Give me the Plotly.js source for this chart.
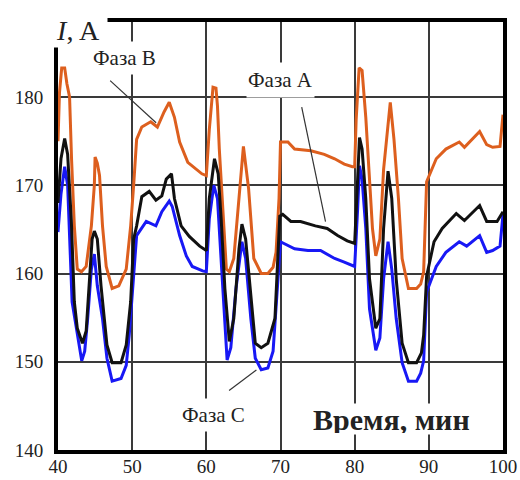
<!DOCTYPE html>
<html>
<head>
<meta charset="utf-8">
<script src="https://cdn.plot.ly/plotly-3.0.1.min.js"></script>
<style>html,body{margin:0;padding:0;background:#fff;}#chart{width:520px;height:480px;}</style>
</head>
<body>
<div id="chart"></div>
<script>
// Phase B (orange)
const timeB = [40.0,40.2,40.5,40.9,41.2,41.56,41.83,42.2,42.6,43.16,43.8,44.5,44.9,45.0,45.3,45.6,46.0,46.5,47.3,48.2,49.2,49.8,50.2,50.6,51.3,52.5,53.4,54.3,55.0,55.7,56.4,57.5,59.4,60.0,60.4,60.9,61.3,61.5,61.75,62.1,62.7,63.1,63.7,64.4,65.0,65.7,66.4,67.4,68.3,69.0,69.4,69.8,70.0,71.0,71.9,74.1,75.9,77.3,78.6,79.7,80.0,80.2,80.6,81.0,81.5,82.0,82.4,82.85,83.4,83.9,84.8,85.3,85.9,86.4,87.25,88.35,88.9,89.3,89.7,91.0,92.3,94.1,94.8,96.85,97.8,98.6,99.6,100];
const phaseB = [175,180.5,183.3,183.3,181.5,180.0,172.9,165.4,160.5,160.2,160.8,165.4,170,173.2,172.5,171.1,165.4,160.8,158.3,158.6,160.5,165.4,170.0,175.2,176.6,177.2,176.6,178.3,179.4,177.7,174.9,172.6,171.3,171.1,176.3,181.1,181.0,179.0,174.1,168.5,160.5,160.2,161.7,168.5,174.4,169.6,161.7,160.0,160.0,160.7,162.4,168.5,174.9,174.9,174.1,173.9,173.5,173.0,172.4,172.1,172.1,177.4,183.3,183.0,177.7,170.7,165.1,162.0,163.9,171.8,179.4,175.2,168.5,161.7,158.3,158.3,158.8,160.2,170.4,173.0,174.1,174.9,174.3,176.1,174.6,174.3,174.4,178];

// Phase A (black)
const timeA = [40.0,40.4,40.9,41.3,41.8,42.2,42.6,43.3,43.8,44.2,44.6,44.9,45.3,45.8,46.2,46.6,47.3,48.5,49.2,49.8,50.2,50.6,51.3,52.3,53.2,54.0,54.6,55.3,55.7,56.6,57.7,59.1,60.0,60.4,61.1,61.6,62.0,62.5,63.1,63.7,64.4,64.8,65.3,66.0,66.6,67.4,68.3,69.25,69.6,69.9,70.3,71.4,72.7,74.7,76.3,77.7,79.0,80.0,80.4,80.65,81.0,81.5,82.0,82.85,83.4,83.9,84.5,85.0,85.6,86.4,87.25,88.35,89.0,89.3,89.7,90.7,91.8,93.7,94.8,96.85,97.8,99.2,100];
const phaseA = [168,173,175.3,173.5,165.9,156.8,153.8,152.1,153.5,158.6,163.9,164.8,163.9,158.6,154.9,151.9,149.9,149.9,151.9,156.8,163.9,165.4,168.7,169.3,168.3,168.8,170.7,171.3,168.5,165.4,164.2,163.1,162.6,168.5,173.0,171.3,166.2,158.3,152.3,154.9,162.8,165.6,163.9,157.1,152.1,151.6,152.1,154.9,160.5,166.5,166.7,165.9,165.9,165.4,165.1,164.3,163.7,163.4,170.7,175.4,174.1,168.5,159.4,153.8,154.9,165.1,171.6,168.5,159.4,152.1,149.9,149.9,151.0,153.0,159.7,163.6,165.1,166.8,166.0,167.7,165.9,165.9,167.0];

// Phase C (blue)
const timeC = [40.0,40.4,40.9,41.3,41.9,42.5,43.2,43.6,44.0,44.5,44.9,45.3,46.0,46.6,47.3,48.5,49.2,49.6,50.0,50.6,51.9,53.2,54.0,55.0,55.4,56.4,57.3,58.1,59.5,60.0,60.4,61.0,61.5,62.0,62.4,62.8,63.3,64.0,64.8,65.3,66.0,66.6,67.4,68.3,69.0,69.6,70.0,71.9,73.7,75.4,77.3,78.6,80.0,80.4,80.65,81.0,81.5,82.0,82.85,83.4,83.9,84.5,85.0,85.6,86.4,87.25,88.35,88.9,89.3,89.7,91.0,92.3,94.1,95.1,96.85,97.8,98.6,99.6,100];
const phaseC = [164.7,169,172.1,170,156.8,153.8,150.1,151.2,154.9,160.5,162.2,158.6,154.9,150.4,147.8,148.1,149.6,153.0,157.9,164.3,165.9,165.4,167.0,168.2,167.6,164.3,162.0,160.8,160.3,160.2,166.2,170.0,168.5,161.7,154.9,150.2,151.6,158.3,163.6,161.7,154.9,150.4,149.1,149.3,151.2,158.6,163.6,162.8,162.6,162.6,161.7,161.3,160.8,167.3,172.2,170.7,165.1,156.0,151.3,152.7,159.4,163.6,160.5,154.9,149.9,147.8,147.8,148.7,150.1,157.9,160.8,162.4,163.6,163.1,164.3,162.4,162.6,163.1,166.7];

const xTicks = [40,50,60,70,80,90,100];
const yTicks = [140,150,160,170,180];
const labelB = 'Фаза B';
const labelA = 'Фаза A';
const labelC = 'Фаза C';
const xTitle = 'Время, мин';
const yTitle = '<i>I</i>, A';

const serif = "'Liberation Serif', 'DejaVu Serif', serif";

const traces = [
  {x: timeB, y: phaseB, mode: 'lines', line: {color: '#DD5F1E', width: 3}, name: labelB},
  {x: timeC, y: phaseC, mode: 'lines', line: {color: '#1818F5', width: 3}, name: labelC},
  {x: timeA, y: phaseA, mode: 'lines', line: {color: '#111111', width: 3}, name: labelA}
];

const axisCommon = {
  showgrid: true, gridcolor: '#3a3a3a', gridwidth: 2,
  showline: true, linecolor: '#000', linewidth: 4, mirror: true,
  zeroline: false, ticks: '', tickmode: 'array',
  tickfont: {family: serif, size: 19, color: '#222'}
};

const leader = (x0, y0, x1, y1) => ({type: 'line', xref: 'x', yref: 'y', x0, y0, x1, y1, line: {color: '#333', width: 1.2}, layer: 'above'});

const layout = {
  width: 520, height: 480,
  margin: {l: 58, r: 17, t: 22, b: 30},
  paper_bgcolor: '#fff', plot_bgcolor: '#fff',
  showlegend: false,
  xaxis: Object.assign({}, axisCommon, {range: [40, 100], tickvals: xTicks, ticklabelstandoff: -4}),
  yaxis: Object.assign({}, axisCommon, {range: [140, 188.5], tickvals: yTicks, ticklabelstandoff: 7}),
  shapes: [
    leader(47.03, 181.86, 53.23, 177.08),
    leader(72.86, 178.86, 76.07, 165.87),
    leader(63.07, 146.74, 66.75, 149.07)
  ],
  annotations: [
    {x: 42.63, y: 188.0, xref: 'x', yref: 'y', text: yTitle, showarrow: false, bgcolor: '#fff', width: 56, height: 40, valign: 'bottom', font: {family: serif, size: 28, color: '#222'}},
    {x: 48.9, y: 184.4, xref: 'x', yref: 'y', text: labelB, showarrow: false, bgcolor: '#fff', height: 30, font: {family: serif, size: 21, color: '#222'}},
    {x: 70.04, y: 181.9, xref: 'x', yref: 'y', text: labelA, showarrow: false, bgcolor: '#fff', height: 32, font: {family: serif, size: 21, color: '#222'}},
    {x: 60.96, y: 143.95, xref: 'x', yref: 'y', text: labelC, showarrow: false, bgcolor: '#fff', height: 30, font: {family: serif, size: 21, color: '#222'}},
    {x: 84.9, y: 143.5, xref: 'x', yref: 'y', text: '<b>' + xTitle + '</b>', showarrow: false, bgcolor: '#fff', height: 28, font: {family: serif, size: 30, color: '#222'}}
  ]
};

Plotly.newPlot('chart', traces, layout, {displayModeBar: false, staticPlot: true});
</script>
</body>
</html>
